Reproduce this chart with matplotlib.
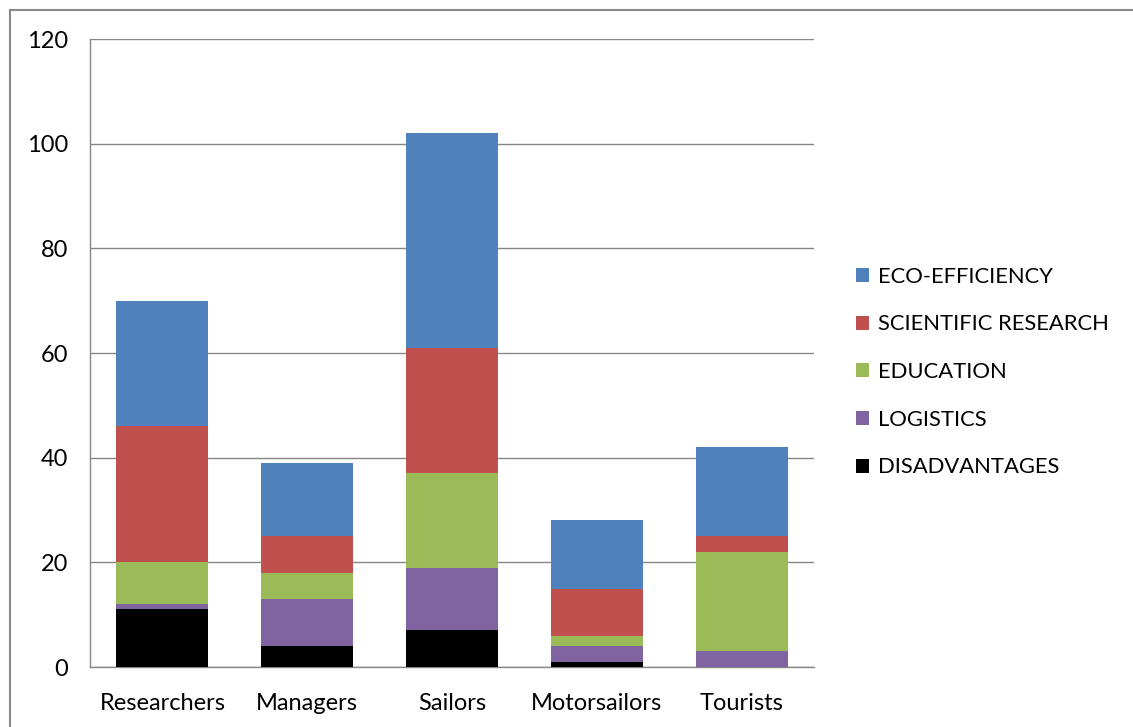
import matplotlib
matplotlib.use("Agg")
import matplotlib.pyplot as plt
from matplotlib.lines import Line2D
import numpy as np

categories = ["Researchers", "Managers", "Sailors", "Motorsailors", "Tourists"]
disadvantages = [11, 4, 7, 1, 0]
logistics = [1, 9, 12, 3, 3]
education = [8, 5, 18, 2, 19]
scientific = [26, 7, 24, 9, 3]
eco = [24, 14, 41, 13, 17]

series = [
    ("DISADVANTAGES", disadvantages, "#000000"),
    ("LOGISTICS", logistics, "#8064A2"),
    ("EDUCATION", education, "#9BBB59"),
    ("SCIENTIFIC RESEARCH", scientific, "#C0504D"),
    ("ECO-EFFICIENCY", eco, "#4F81BD"),
]

plt.rcParams['font.family'] = ['Lato', 'DejaVu Sans']

W, H = 1133, 727
fig = plt.figure(figsize=(W/100, H/100), dpi=100)
ax = fig.add_axes([90/W, (H-667)/H, (814-90)/W, (667-39)/H])

x = np.arange(len(categories))
bottom = np.zeros(len(categories))
handles = []
for name, vals, col in series:
    b = ax.bar(x, vals, width=0.634, bottom=bottom, color=col, label=name, zorder=3)
    bottom += np.array(vals)
    handles.append(b)

ax.set_xlim(-0.5, 4.5)
ax.set_ylim(0, 120)
ax.set_yticks(range(0, 121, 20))
ax.set_xticks(x)
ax.set_xticklabels(categories)
ax.yaxis.grid(True, color="#868686", linewidth=1.0, zorder=0)
ax.tick_params(axis='both', length=0, labelsize=17, colors="#000000")
ax.tick_params(axis='y', pad=16)
ax.tick_params(axis='x', pad=19)
for s in ["top", "right"]:
    ax.spines[s].set_visible(False)
for s in ["left", "bottom"]:
    ax.spines[s].set_color("#868686")
    ax.spines[s].set_linewidth(1.0)

leg = fig.legend(handles[::-1], [s[0] for s in series][::-1],
                 loc="upper left", bbox_to_anchor=(847/W, 1 - 258/H),
                 frameon=False, fontsize=15.8, handlelength=0.62, handleheight=0.62,
                 handletextpad=0.38, labelspacing=1.26, borderaxespad=0)

# outer chart border
fig.add_artist(Line2D([9.5/W, 9.5/W], [0, 1 - 9.5/H], transform=fig.transFigure, color="#8a8a8a", linewidth=1.5))
fig.add_artist(Line2D([9.5/W, 1], [1 - 9.5/H, 1 - 9.5/H], transform=fig.transFigure, color="#8a8a8a", linewidth=1.5))

fig.savefig("out.png", dpi=100)
